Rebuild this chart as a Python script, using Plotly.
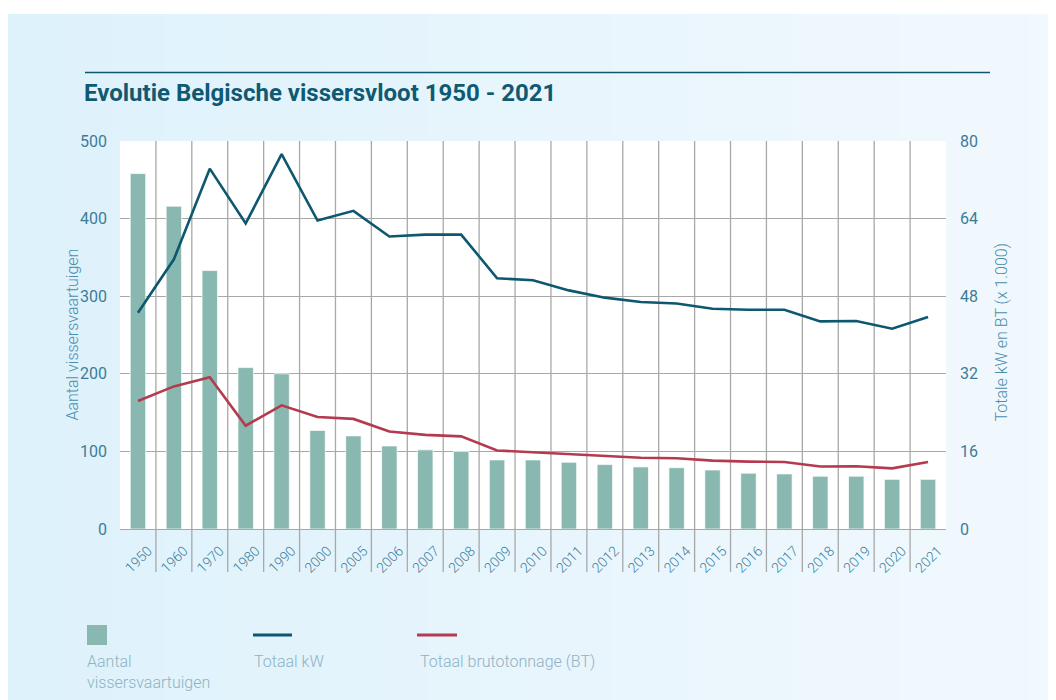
import plotly.graph_objects as go

years = ["1950", "1960", "1970", "1980", "1990", "2000", "2005", "2006", "2007", "2008",
         "2009", "2010", "2011", "2012", "2013", "2014", "2015", "2016", "2017", "2018",
         "2019", "2020", "2021"]
vessels = [458, 416, 333, 208, 200, 127, 120, 107, 102, 100,
           89, 89, 86, 83, 80, 79, 76, 72, 71, 68,
           68, 64, 64]
kw_total = [44.6, 55.6, 74.3, 63.0, 77.3, 63.6, 65.6, 60.3, 60.7, 60.7,
            51.7, 51.3, 49.2, 47.7, 46.8, 46.5, 45.4, 45.2, 45.2, 42.8,
            42.9, 41.3, 43.7]
bt_total = [26.4, 29.4, 31.3, 21.3, 25.5, 23.1, 22.7, 20.1, 19.4, 19.1,
            16.2, 15.8, 15.4, 15.1, 14.7, 14.6, 14.1, 13.9, 13.8, 12.9,
            12.95, 12.5, 13.8]

C_BAR = "#88b8b0"
C_KW = "#0d5870"
C_BT = "#b43a50"
C_TICK = "#3b7d99"
C_TITLE_AX = "#4a8fae"
C_LEG = "#8eb2c3"
GRID = "#a8a8a8"

# page is offset by the browser's 8px body margin
OFF = 8
PAGE_W, PAGE_H = 1056, 700
W, H = PAGE_W - OFF, PAGE_H - OFF
# plot area in page pixels
P_L, P_R, P_T, P_B = 120, 946, 141, 529
ML, MR, MT, MB = P_L - OFF, PAGE_W - P_R, P_T - OFF, PAGE_H - P_B
PW = P_R - P_L
PH = P_B - P_T


def px(x):
    return (x - P_L) / PW


def py(y):
    return (P_B - y) / PH


fig = go.Figure()
fig.add_trace(go.Bar(x=years, y=vessels, name="Aantal vissersvaartuigen",
                     marker=dict(color=C_BAR, line=dict(color="rgba(255,255,255,0.7)", width=1)),
                     yaxis="y"))
fig.add_trace(go.Scatter(x=years, y=kw_total, mode="lines", name="Totaal kW",
                         line=dict(color=C_KW, width=2.6), yaxis="y2"))
fig.add_trace(go.Scatter(x=years, y=bt_total, mode="lines", name="Totaal brutotonnage (BT)",
                         line=dict(color=C_BT, width=2.6), yaxis="y2"))

shapes = []
# gradient panel background
n = 40
x0p, x1p = OFF, PAGE_W
for i in range(n):
    t = i / (n - 1)
    r = int(222 + (242 - 222) * t)
    g = int(242 + (249 - 242) * t)
    b = int(252 + (254 - 252) * t)
    xa = x0p + (x1p - x0p) * i / n
    xb = x0p + (x1p - x0p) * (i + 1) / n + 1
    shapes.append(dict(type="rect", xref="paper", yref="paper", layer="below",
                       x0=px(xa), x1=px(xb), y0=py(PAGE_H), y1=py(14),
                       fillcolor=f"rgb({r},{g},{b})", line=dict(width=0)))
# white plot area
shapes.append(dict(type="rect", xref="paper", yref="paper", layer="below",
                   x0=0, x1=1, y0=0, y1=1, fillcolor="white", line=dict(width=0)))
# vertical category separators extending below axis
ncat = len(years)
for k in range(1, ncat):
    shapes.append(dict(type="line", xref="paper", yref="paper", layer="below",
                       x0=k / ncat, x1=k / ncat, y0=py(572), y1=1,
                       line=dict(color=GRID, width=1.3)))
# rule above title
shapes.append(dict(type="line", xref="paper", yref="paper",
                   x0=px(85), x1=px(990), y0=py(72.5), y1=py(72.5),
                   line=dict(color=C_KW, width=1.5)))
# legend swatches
shapes.append(dict(type="rect", xref="paper", yref="paper",
                   x0=px(87), x1=px(107), y0=py(645), y1=py(625),
                   fillcolor=C_BAR, line=dict(width=0)))
shapes.append(dict(type="line", xref="paper", yref="paper",
                   x0=px(253), x1=px(292), y0=py(635), y1=py(635),
                   line=dict(color=C_KW, width=3)))
shapes.append(dict(type="line", xref="paper", yref="paper",
                   x0=px(417), x1=px(457), y0=py(635), y1=py(635),
                   line=dict(color=C_BT, width=3)))

annotations = [
    dict(text="<b>Evolutie Belgische vissersvloot 1950 - 2021</b>", xref="paper", yref="paper",
         x=px(82), y=py(93), xanchor="left", yanchor="middle", showarrow=False,
         font=dict(family="Roboto", size=24, color="#0f5a72")),
    dict(text="Aantal vissersvaartuigen", xref="paper", yref="paper",
         x=px(60), y=py(335), textangle=-90, showarrow=False,
         font=dict(family="Roboto", size=16, color=C_TITLE_AX, weight=300)),
    dict(text="Totale kW en BT (x 1.000)", xref="paper", yref="paper",
         x=px(1012), y=py(333), textangle=-90, showarrow=False,
         font=dict(family="Roboto", size=16, color=C_TITLE_AX, weight=300)),
    dict(text="Aantal<br>vissersvaartuigen", xref="paper", yref="paper",
         x=px(85), y=py(650), xanchor="left", yanchor="top", align="left", showarrow=False,
         font=dict(family="Roboto", size=16, color=C_LEG, weight=300)),
    dict(text="Totaal kW", xref="paper", yref="paper",
         x=px(252), y=py(650), xanchor="left", yanchor="top", align="left", showarrow=False,
         font=dict(family="Roboto", size=16, color=C_LEG, weight=300)),
    dict(text="Totaal brutotonnage (BT)", xref="paper", yref="paper",
         x=px(418), y=py(650), xanchor="left", yanchor="top", align="left", showarrow=False,
         font=dict(family="Roboto", size=16, color=C_LEG, weight=300)),
]

fig.update_layout(
    width=W, height=H,
    margin=dict(l=ML, r=MR, t=MT, b=MB, pad=0),
    paper_bgcolor="white", plot_bgcolor="white",
    showlegend=False, bargap=0.57,
    font=dict(family="Roboto", color=C_TICK),
    xaxis=dict(type="category", showgrid=False, showline=True, linecolor=GRID, linewidth=1.3,
               ticks="", tickangle=-45, ticklabelshift=10, ticklabelstandoff=7,
               tickfont=dict(size=14, color=C_TICK, weight=300),
               range=[-0.5, ncat - 0.5]),
    yaxis=dict(range=[0, 500], dtick=100, showgrid=True, gridcolor=GRID, gridwidth=1,
               zeroline=False, showline=False, ticks="", ticklabelstandoff=12,
               tickfont=dict(size=16, color=C_TICK)),
    yaxis2=dict(range=[0, 80], dtick=16, overlaying="y", side="right", showgrid=False,
                zeroline=False, showline=False, ticks="", ticklabelstandoff=13,
                tickfont=dict(size=16, color=C_TICK)),
    shapes=shapes, annotations=annotations,
)

fig.write_html("out.html")
